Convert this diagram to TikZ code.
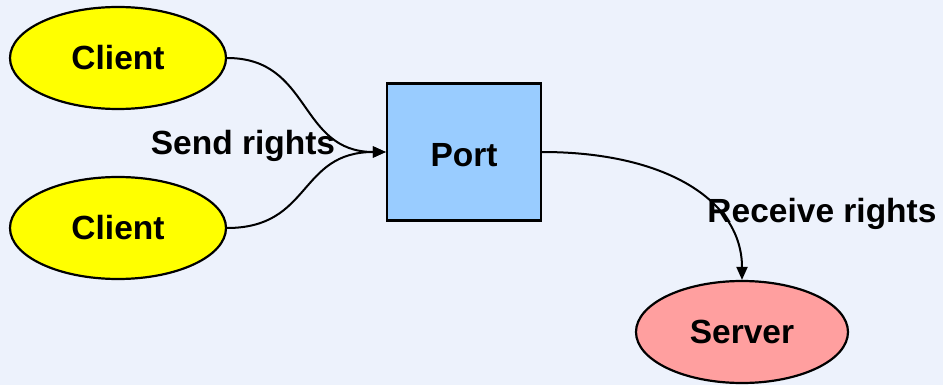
\documentclass[tikz,border=0pt]{standalone}
\usepackage{fontspec}
\setmainfont{Liberation Sans}
\usetikzlibrary{shapes.geometric,arrows.meta}
\definecolor{bgblue}{HTML}{EDF2FC}
\definecolor{clientfill}{HTML}{FFFF00}
\definecolor{portfill}{HTML}{99CCFF}
\definecolor{serverfill}{HTML}{FF9F9F}
\tikzset{
  lbl/.style={font=\fontsize{33.5}{38}\selectfont\bfseries, inner sep=0pt},
  oval/.style={ellipse, draw=black, line width=2.2pt, inner sep=0pt,
    font=\fontsize{33.5}{38}\selectfont\bfseries},
  portbox/.style={rectangle, draw=black, line width=2.2pt, fill=portfill, inner sep=0pt,
    minimum width=154pt, minimum height=137pt},
  link/.style={line width=2pt, -{Triangle[length=13pt,width=11pt]}}
}
\begin{document}
\begin{tikzpicture}[x=1pt,y=-1pt]
  % canvas
  \fill[bgblue] (0,0) rectangle (943,385);
  \useasboundingbox (0,0) rectangle (943,385);

  % nodes
  \node[oval, fill=clientfill, minimum width=216pt, minimum height=102pt] (c1) at (118,58) {Client};
  \node[oval, fill=clientfill, minimum width=216pt, minimum height=102pt] (c2) at (118,228) {Client};
  \node[portbox] (port) at (464,152) {};
  \node[lbl] at (464,155) {Port};
  \node[oval, fill=serverfill, minimum width=212pt, minimum height=102pt] (srv) at (742,332) {Server};

  % connectors
  \draw[link] (c1.east) .. controls (312,58) and (298,152) .. (port.west);
  \draw[link] (c2.east) .. controls (312,228) and (298,152) .. (port.west);
  \draw[link] (port.east) .. controls (665,152) and (742,200) .. (srv.north);

  % edge labels
  \node[lbl] at (243,146) {Send rights};
  \node[lbl] at (822,214) {Receive rights};
\end{tikzpicture}
\end{document}
